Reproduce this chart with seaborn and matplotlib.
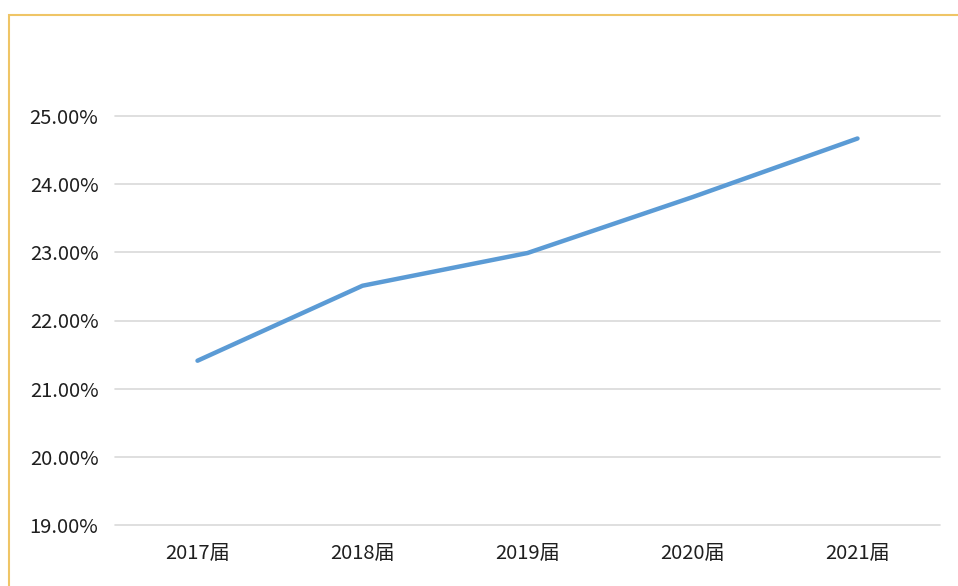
import matplotlib
matplotlib.use("Agg")
import matplotlib.pyplot as plt
import seaborn as sns
import pandas as pd
from matplotlib.patches import Rectangle
from matplotlib.ticker import FuncFormatter

categories = ["2017届", "2018届", "2019届", "2020届", "2021届"]
values = [21.41, 22.51, 22.99, 23.81, 24.67]
yticks = [19, 20, 21, 22, 23, 24, 25]

sns.set_theme(style="white")
plt.rcParams['font.family'] = ['Noto Sans CJK SC', 'DejaVu Sans']

df = pd.DataFrame({"cat": categories, "val": values})

fig = plt.figure(figsize=(9.58, 5.86), dpi=100)
ax = fig.add_axes([115/958, 61/586, 825/958, 409/586])
sns.lineplot(data=df, x="cat", y="val", ax=ax, color="#5b9bd5", linewidth=3.2,
             sort=False)
ax.set_xlim(-0.5, 4.5)
ax.set_ylim(19, 25)
ax.set_yticks(yticks)
ax.yaxis.set_major_formatter(FuncFormatter(lambda v, p: f"{v:.2f}%"))
ax.grid(axis="y", color="#d9d9d9", linewidth=1.2)
for gl in ax.get_ygridlines():
    gl.set_clip_on(False)
ax.set_axisbelow(True)
for s in ax.spines.values():
    s.set_visible(False)
ax.set_xlabel("")
ax.set_ylabel("")
ax.tick_params(axis="both", length=0, labelsize=14.5, colors="#1f1f1f")
ax.tick_params(axis="y", pad=12)
ax.tick_params(axis="x", pad=13)

fig.patches.append(Rectangle((9/958, -0.1), 1.2, (586-15)/586 + 0.1,
                             transform=fig.transFigure, fill=False,
                             edgecolor="#efc566", linewidth=1.5))
fig.savefig("out.png", dpi=100)
